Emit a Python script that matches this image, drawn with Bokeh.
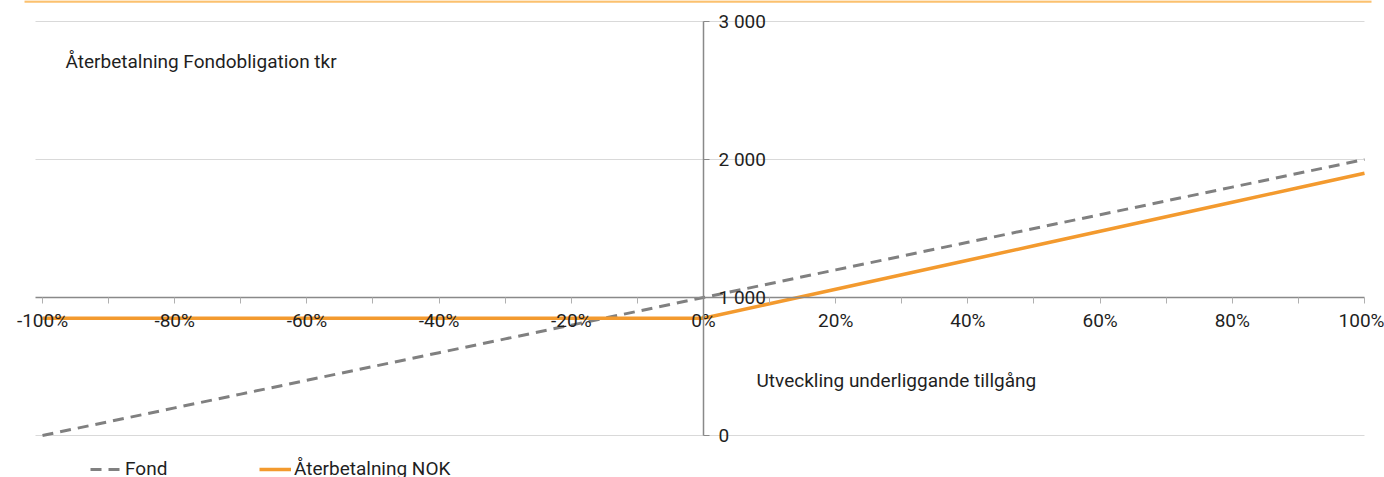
from bokeh.plotting import figure
from bokeh.models import (LinearAxis, FixedTicker, Range1d, Label, Legend,
                          LegendItem)
from bokeh.embed import file_html
from bokeh.resources import INLINE

# ---- data ----
utveckling = [-100, -90, -80, -70, -60, -50, -40, -30, -20, -10, 0,
              10, 20, 30, 40, 50, 60, 70, 80, 90, 100]
fond = [0, 100, 200, 300, 400, 500, 600, 700, 800, 900, 1000,
        1100, 1200, 1300, 1400, 1500, 1600, 1700, 1800, 1900, 2000]
aterbetalning = [850, 850, 850, 850, 850, 850, 850, 850, 850, 850, 850,
                 955, 1060, 1165, 1270, 1375, 1480, 1585, 1690, 1795, 1900]

x_ticks = [-100, -80, -60, -40, -20, 0, 20, 40, 60, 80, 100]
x_minor = [-90, -70, -50, -30, -10, 10, 30, 50, 70, 90]
x_tick_labels = ["-100%", "-80%", "-60%", "-40%", "-20%", "0%",
                 "20%", "40%", "60%", "80%", "100%"]
y_ticks = [0, 1000, 2000, 3000]
y_grid_values = [0, 2000, 3000]
y_tick_labels = ["0", "1 000", "2 000", "3 000"]

series_names = ["Fond", "Återbetalning NOK"]
y_title = "Återbetalning Fondobligation tkr"
x_title = "Utveckling underliggande tillgång"

FONT = "Roboto"
FS = "19px"
TXT = "#1f1f1f"
AX = "#898989"

# plot region: x from -101.06 .. 100, y from 0 .. 3000
X0, X1 = -101.06, 100
p = figure(width=1384, height=477, output_backend="svg", toolbar_location=None,
           x_axis_location=None, y_axis_location=None,
           x_range=Range1d(-106.354, 103.026), y_range=Range1d(-304.35, 3152.17),
           min_border_left=0, min_border_right=0, min_border_top=0,
           min_border_bottom=0)
for g in p.grid:
    g.visible = False
p.outline_line_color = None
p.background_fill_color = "white"
p.border_fill_color = "white"

# top decorative rule
p.segment(x0=[-102.72], y0=[3145], x1=[101.06], y1=[3145],
          line_color="#FBC16F", line_width=2.5)

# horizontal gridlines
p.segment(x0=[X0] * len(y_grid_values), y0=y_grid_values,
          x1=[X1] * len(y_grid_values), y1=y_grid_values,
          line_color="#D9D9D9", line_width=1)

r1 = p.line(utveckling, fond, line_color="#808080", line_width=3,
            line_dash="11 7")
r2 = p.line(utveckling, aterbetalning, line_color="#F39A2E", line_width=3.5)

xaxis = LinearAxis(fixed_location=1000, bounds=(X0, X1),
                   ticker=FixedTicker(ticks=x_ticks, minor_ticks=x_minor),
                   major_label_overrides=dict(zip(x_ticks, x_tick_labels)),
                   axis_line_color=AX, axis_line_width=1.5,
                   major_tick_line_color="#B0B0B0", minor_tick_line_color="#B0B0B0",
                   major_tick_in=0, major_tick_out=6,
                   minor_tick_in=0, minor_tick_out=6,
                   major_label_standoff=6,
                   major_label_text_font=FONT, major_label_text_font_size=FS,
                   major_label_text_color=TXT)
p.add_layout(xaxis, "below")

yaxis = LinearAxis(fixed_location=0, bounds=(0, 3000),
                   ticker=FixedTicker(ticks=y_ticks, minor_ticks=[]),
                   major_label_overrides=dict(zip(y_ticks, y_tick_labels)),
                   axis_line_color=AX, axis_line_width=1.5,
                   major_tick_line_color=AX, major_tick_in=0, major_tick_out=6,
                   minor_tick_line_color=None,
                   major_label_standoff=9,
                   major_label_text_font=FONT, major_label_text_font_size=FS,
                   major_label_text_color=TXT)
p.add_layout(yaxis, "right")

p.add_layout(Label(x=-96.52, y=2710, text=y_title, text_font=FONT,
                   text_font_size=FS, text_color=TXT,
                   text_baseline="alphabetic"))
p.add_layout(Label(x=8.02, y=399, text=x_title, text_font=FONT,
                   text_font_size=FS, text_color=TXT,
                   text_baseline="alphabetic"))

legend = Legend(items=[LegendItem(label=series_names[0], renderers=[r1]),
                       LegendItem(label=series_names[1], renderers=[r2])],
                orientation="horizontal", location=(90, -3),
                glyph_width=32, glyph_height=16, label_height=16,
                label_width=134, label_standoff=3, spacing=0,
                padding=0, margin=0, border_line_color=None,
                background_fill_alpha=0,
                label_text_font=FONT, label_text_font_size=FS,
                label_text_color=TXT)
p.add_layout(legend, "center")

open("out.html", "w").write(file_html(p, INLINE))
